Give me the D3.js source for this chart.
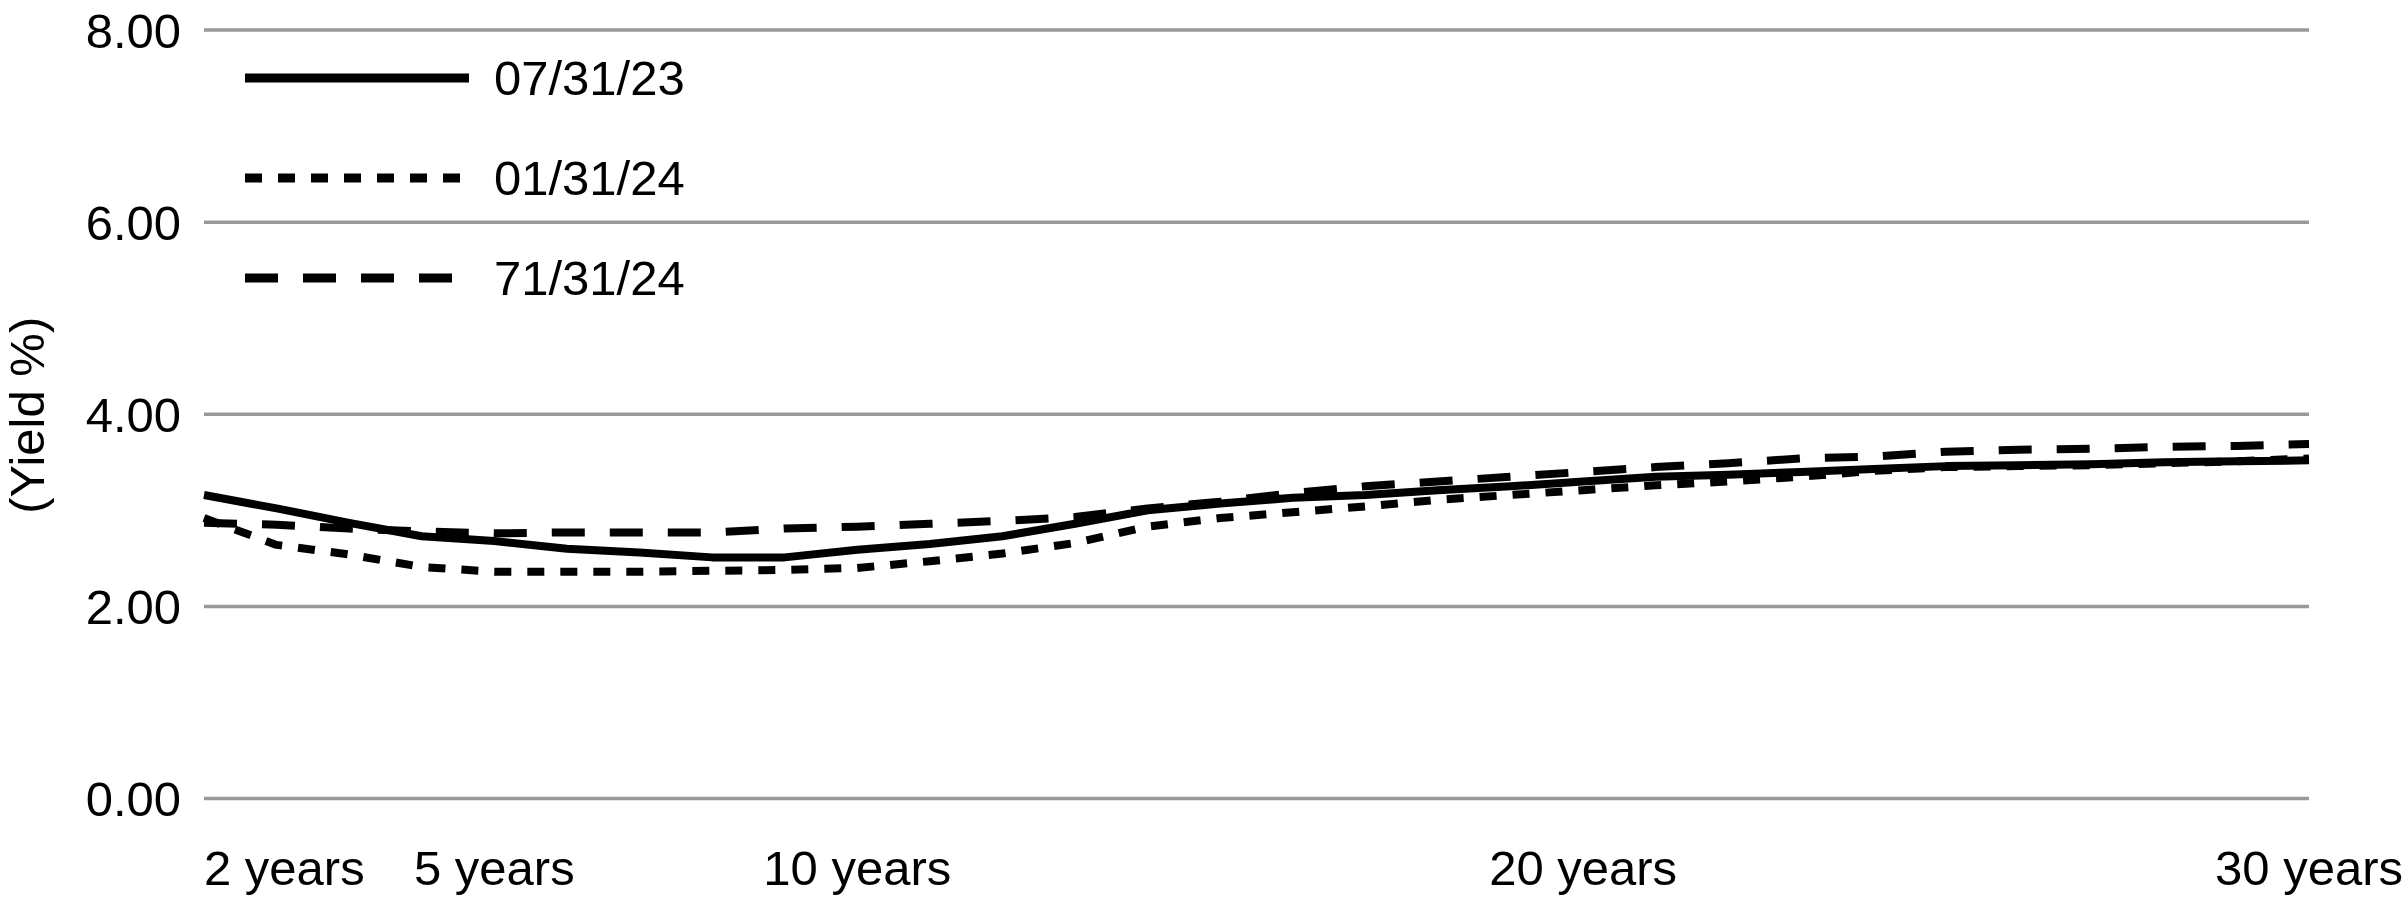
<!DOCTYPE html>
<html>
<head>
<meta charset="utf-8">
<script src="https://cdn.jsdelivr.net/npm/d3@7"></script>
<style>
  html, body { margin: 0; padding: 0; background: #fff; }
  svg { display: block; font-family: "Liberation Sans", Arial, sans-serif; }
</style>
</head>
<body>
<svg id="chart" width="2408" height="908"></svg>
<script>
// Maturities (years) 1..30
const maturities = [1,2,3,4,5,6,7,8,9,10,11,12,13,14,15,16,17,18,19,20,21,22,23,24,25,26,27,28,29,30];
const xTickValues = [2, 5, 10, 20, 30];
const xTickLabels = ["2 years", "5 years", "10 years", "20 years", "30 years"];
const yTicks = [0, 2, 4, 6, 8];
const seriesNames = ["07/31/23", "01/31/24", "71/31/24"];

const yield_073123 = [3.16,3.02,2.87,2.73,2.68,2.60,2.56,2.51,2.51,2.59,2.65,2.73,2.86,3.00,3.07,3.13,3.16,3.21,3.25,3.30,3.35,3.37,3.40,3.43,3.46,3.47,3.48,3.50,3.51,3.52];
const yield_013124 = [2.92,2.64,2.54,2.41,2.36,2.36,2.36,2.37,2.38,2.40,2.47,2.55,2.66,2.83,2.92,2.98,3.04,3.11,3.16,3.21,3.26,3.30,3.35,3.41,3.45,3.46,3.47,3.49,3.51,3.54];
const yield_713124 = [2.87,2.85,2.81,2.78,2.76,2.77,2.77,2.77,2.81,2.83,2.86,2.89,2.93,3.02,3.09,3.18,3.25,3.30,3.35,3.40,3.45,3.49,3.54,3.56,3.61,3.63,3.64,3.66,3.67,3.69];

const seriesValues = [yield_073123, yield_013124, yield_713124];
const dashes = [null, "17,16", "33,25"];

const svg = d3.select("#chart");
const x0 = 204, x1 = 2309, yTop = 30, yBot = 798.5;
const fontSize = 49;

const x = d3.scaleLinear().domain([1, 30]).range([x0, x1]);
const y = d3.scaleLinear().domain([0, 8]).range([yBot, yTop]);

// Gridlines
svg.append("g").selectAll("line").data(yTicks).join("line")
  .attr("x1", x0).attr("x2", x1)
  .attr("y1", d => y(d)).attr("y2", d => y(d))
  .attr("stroke", "#999").attr("stroke-width", 3.5);

// Y axis tick labels
const yAxis = d3.axisLeft(y).tickValues(yTicks).tickFormat(d3.format(".2f")).tickSize(0).tickPadding(0);
const gy = svg.append("g").attr("transform", `translate(${181},0)`).call(yAxis);
gy.select(".domain").remove();
gy.selectAll("text").attr("font-size", fontSize).attr("fill", "#000")
  .attr("font-family", "'Liberation Sans', Arial, sans-serif").attr("dy", "0.35em");

// Y axis title
svg.append("text")
  .attr("transform", `translate(44, ${(y(8) + y(0)) / 2 + 1}) rotate(-90)`)
  .attr("text-anchor", "middle")
  .attr("font-size", fontSize)
  .attr("fill", "#000")
  .text("(Yield %)");

// X axis labels
const gx = svg.append("g");
xTickValues.forEach((v, i) => {
  const t = gx.append("text")
    .attr("x", x(v)).attr("y", 885)
    .attr("text-anchor", "middle")
    .attr("font-size", fontSize)
    .attr("fill", "#000")
    .text(xTickLabels[i]);
  const w = t.node().getComputedTextLength();
  if (x(v) - w / 2 < x0) t.attr("x", x0 + w / 2);
});

// Lines
const line = d3.line().x((d, i) => x(maturities[i])).y(d => y(d));
seriesValues.forEach((vals, k) => {
  svg.append("path")
    .datum(vals)
    .attr("d", line)
    .attr("fill", "none")
    .attr("stroke", "#000")
    .attr("stroke-width", 8)
    .attr("stroke-linejoin", "round")
    .attr("stroke-dasharray", dashes[k]);
});

// Legend
const legendY = [78, 178, 278];
const legendX2 = [469, 462, 453];
seriesNames.forEach((name, k) => {
  svg.append("line")
    .attr("x1", 245).attr("x2", legendX2[k])
    .attr("y1", legendY[k]).attr("y2", legendY[k])
    .attr("stroke", "#000").attr("stroke-width", 9)
    .attr("stroke-dasharray", dashes[k]);
  svg.append("text")
    .attr("x", 494).attr("y", legendY[k])
    .attr("dy", "0.35em")
    .attr("font-size", fontSize)
    .attr("fill", "#000")
    .text(name);
});
</script>
</body>
</html>
